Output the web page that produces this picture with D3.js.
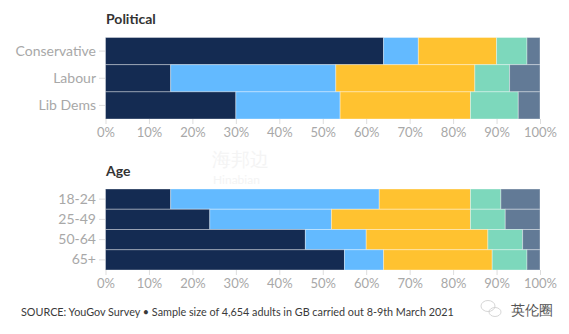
<!DOCTYPE html>
<html><head><meta charset="utf-8">
<script src="https://cdn.jsdelivr.net/npm/d3@7"></script>
<style>
html,body{margin:0;padding:0;background:#fff;}
svg text{font-family:Lato,"Noto Sans",sans-serif;}
</style></head>
<body>
<svg id="chart" width="569" height="334"></svg>
<script>
const seriesNames = ["Strongly support","Somewhat support","Somewhat oppose","Strongly oppose","Don't know"];
const colors = ["#142b52","#63baff","#ffc230","#7dd8bc","#627a96"];
const ticks = [0,10,20,30,40,50,60,70,80,90,100];

const politicalCats = ["Conservative","Labour","Lib Dems"];
const politicalVals = [
  [64, 8, 18, 7, 3],
  [15, 38, 32, 8, 7],
  [30, 24, 30, 11, 5]
];
const ageCats = ["18-24","25-49","50-64","65+"];
const ageVals = [
  [15, 48, 21, 7, 9],
  [24, 28, 32, 8, 8],
  [46, 14, 28, 8, 4],
  [55, 9, 25, 8, 3]
];

const svg = d3.select("#chart");
const x = d3.scaleLinear().domain([0,100]).range([105.5,540]);

// faint watermark
svg.append("text").attr("x",212).attr("y",166).attr("font-size",19)
  .attr("fill","#f4f4f4").attr("font-family","'Noto Sans CJK SC'").text("海邦边");
svg.append("text").attr("x",213).attr("y",184).attr("font-size",12)
  .attr("fill","#f4f4f4").text("Hinabian");

function panel(title, cats, vals, top, bottom, titleY){
  svg.append("text").attr("x",106).attr("y",titleY)
    .attr("font-size",14).attr("font-weight",700).attr("fill","#333").text(title);
  const y = d3.scaleBand().domain(cats).range([top,bottom]).padding(0);
  const rows = cats.map((c,i)=>{
    let acc=0;
    return vals[i].map((v,j)=>{const s={cat:c,x0:acc,x1:acc+v,k:j};acc+=v;return s;});
  }).flat();
  svg.append("g").selectAll("rect").data(rows).join("rect")
    .attr("x",d=>x(d.x0)).attr("width",d=>x(d.x1)-x(d.x0))
    .attr("y",d=>y(d.cat)).attr("height",y.bandwidth())
    .attr("fill",d=>colors[d.k])
    .attr("stroke","rgba(255,255,255,0.35)").attr("stroke-width",1);

  const ya = svg.append("g").attr("transform",`translate(${x(0)-0.5},0)`)
    .call(d3.axisLeft(y).tickSize(6).tickPadding(3));
  ya.select(".domain").remove();
  ya.selectAll("line").attr("stroke","#ddd");
  ya.selectAll("text").attr("font-size",14).attr("fill","#a8a8a8").attr("font-family","Lato,sans-serif");

  const xa = svg.append("g").attr("transform",`translate(0,${bottom})`)
    .call(d3.axisBottom(x).tickValues(ticks).tickFormat(d=>d+"%").tickSize(5).tickPadding(4));
  xa.select(".domain").remove();
  xa.selectAll("line").attr("stroke","#ddd");
  xa.selectAll("text").attr("font-size",13).attr("fill","#a8a8a8").attr("font-family","Lato,sans-serif");
}

panel("Political", politicalCats, politicalVals, 37.5, 119, 24);
panel("Age", ageCats, ageVals, 189, 270, 176);

svg.append("text").attr("x",21).attr("y",316).attr("font-size",10.8).attr("fill","#3a3a3a")
  .text("SOURCE: YouGov Survey • Sample size of 4,654 adults in GB carried out 8-9th March 2021");

// wechat-like icon
const ic = svg.append("g").attr("fill","none").attr("stroke","#ccc").attr("stroke-width",0.8);
ic.append("ellipse").attr("cx",488).attr("cy",306).attr("rx",7).attr("ry",5.5);
ic.append("ellipse").attr("cx",495).attr("cy",312).attr("rx",6).attr("ry",4.5);
svg.append("text").attr("x",511).attr("y",315).attr("font-size",13.5).attr("fill","#555")
  .attr("font-family","'Noto Sans CJK SC'").text("英伦圈");
</script>
</body></html>
